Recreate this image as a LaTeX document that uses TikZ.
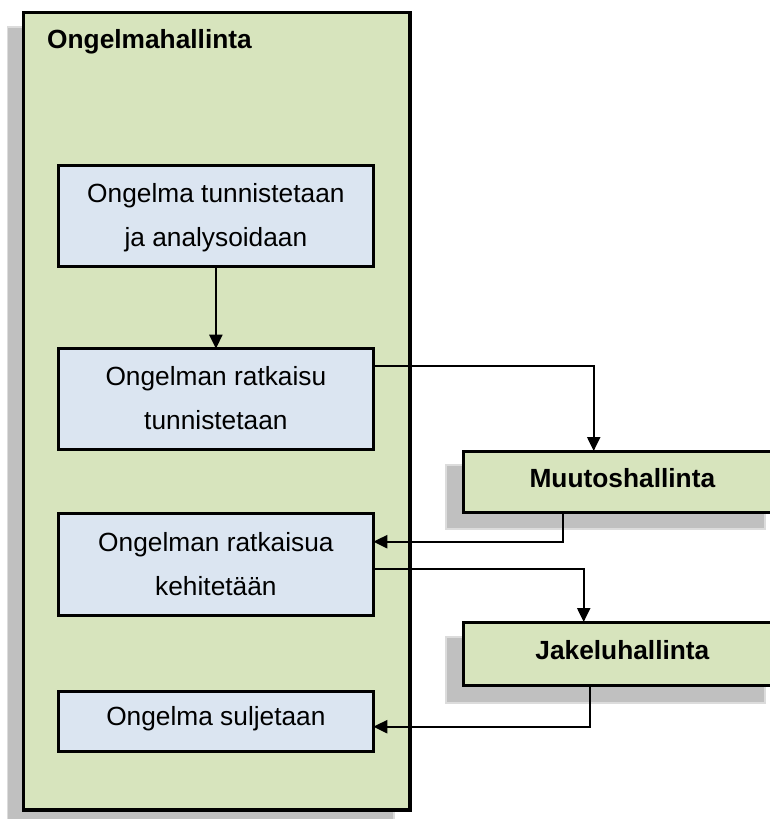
\documentclass[tikz,border=0pt]{standalone}
\usepackage{fontspec}
\setmainfont{Liberation Sans}
\usetikzlibrary{arrows.meta,calc}
\definecolor{panelgreen}{HTML}{D7E4BD}
\definecolor{stepblue}{HTML}{DBE5F1}
\definecolor{shadowgray}{HTML}{C0C0C0}
\definecolor{shadowedge}{HTML}{DCDCDC}
\begin{document}
\begin{tikzpicture}[x=1pt,y=-1pt,
  shadowbox/.style={fill=shadowgray,draw=shadowedge,line width=1.5pt},
  panel/.style={draw=black,fill=panelgreen,line width=3.5pt,inner sep=0pt,outer sep=0pt,anchor=north west},
  stepbox/.style={draw=black,fill=stepblue,line width=3pt,inner sep=0pt,outer sep=0pt,
    align=center,font=\fontsize{26.3}{44}\selectfont,anchor=north west,minimum width=314.8pt},
  twoline/.style={text height=63pt,text depth=1pt},
  oneline/.style={text height=19pt,text depth=12pt},
  sidebox/.style={draw=black,fill=panelgreen,line width=3pt,inner sep=0pt,outer sep=0pt,
    font=\bfseries\fontsize{26.3}{30}\selectfont,anchor=north west,
    minimum width=317.3pt,text height=19pt,text depth=8pt},
  conn/.style={line width=2.2pt,-{Triangle[length=14pt,width=13pt]}}]

\useasboundingbox (0,0) rectangle (770,819);
\fill[white] (0,0) rectangle (770,819);

% main process panel with its drop shadow
\filldraw[shadowbox] (7.5,27) rectangle (394,830);
\node[panel,minimum width=386.5pt,minimum height=797.5pt] (panel) at (23.5,12.5) {};
\node[anchor=base west,font=\bfseries\fontsize{26.3}{30}\selectfont,inner sep=0pt] (title) at (47,48.3) {Ongelmahallinta};

% process steps
\node[stepbox,twoline,minimum height=101pt] (b1) at (58.5,165.3) {Ongelma tunnistetaan\\ja analysoidaan};
\node[stepbox,twoline,minimum height=100.3pt] (b2) at (58.5,348.7) {Ongelman ratkaisu\\tunnistetaan};
\node[stepbox,twoline,minimum height=101.3pt] (b3) at (58.5,513.7) {Ongelman ratkaisua\\kehitetään};
\node[stepbox,oneline,minimum height=60.4pt] (b4) at (58.5,691.3) {Ongelma suljetaan};

% related processes with their shadows
\filldraw[shadowbox] (446,465) rectangle (765,529);
\node[sidebox,minimum height=61.3pt] (muutos) at (463.7,451) {Muutoshallinta};
\filldraw[shadowbox] (446,637) rectangle (765,703);
\node[sidebox,minimum height=63.7pt] (jakelu) at (463.7,622) {Jakeluhallinta};

% connectors
\draw[conn] (b1.south) -- (b2.north);
\draw[conn] ($(b2.north east)+(0,17.5)$) -| ($(muutos.north west)+(130,0)$);
\draw[conn] ($(muutos.south west)+(99.5,0)$) |- ($(b3.north east)+(0,28)$);
\draw[conn] ($(b3.north east)+(0,55.6)$) -| ($(jakelu.north west)+(120,0)$);
\draw[conn] ($(jakelu.south west)+(126.3,0)$) |- ($(b4.north east)+(0,35.4)$);
\end{tikzpicture}
\end{document}
